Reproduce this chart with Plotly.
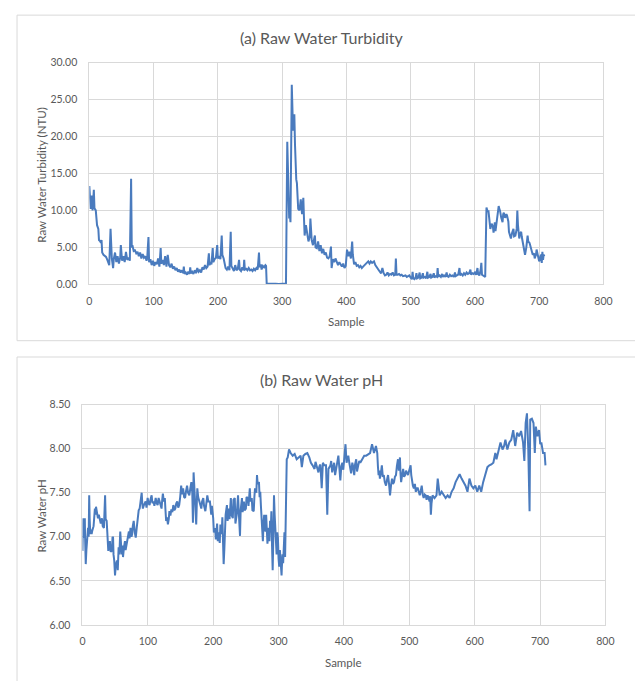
import plotly.graph_objects as go

# ---------------- data: (a) raw water turbidity ----------------
turb_sample = [0, 2, 4, 5, 7, 8, 10, 11, 12, 14, 15, 17, 18, 19, 20, 22, 24, 26, 28, 30, 31, 33, 35, 37, 38, 40, 42, 44, 46, 48, 49,
               51, 53, 55, 57, 59, 61, 63, 65, 66, 67, 69, 71, 73, 75, 77, 79, 81, 83, 85, 87, 89, 90, 92, 93, 95, 97, 99,
               101, 103, 105, 107, 109, 111, 112, 114, 116, 118, 120, 122, 124, 126, 128, 130, 132, 134, 136, 138, 140, 142,
               144, 146, 147, 148, 150, 152, 154, 156, 157, 158, 160, 162, 164, 166, 168, 170, 172, 174, 176, 178, 180, 182,
               184, 186, 187, 189, 190, 192, 193, 195, 197, 199, 200, 202, 204, 206, 207, 209, 211, 212, 214, 216, 218, 220,
               221, 223, 225, 227, 229, 231, 233, 234, 236, 238, 240, 241, 242, 244, 246, 248, 250, 252, 254, 256, 258, 260,
               262, 264, 265, 267, 268, 270, 272, 274, 275, 276, 280, 285, 290, 295, 300, 305, 306, 308, 309, 311, 312, 313,
               315, 316, 317, 318, 319, 320, 321, 322, 323, 324, 325, 327, 329, 331, 333, 334, 335, 337, 338, 340, 341, 343,
               344, 346, 348, 350, 351, 352, 354, 356, 358, 360, 362, 364, 366, 368, 370, 372, 374, 376, 377, 379, 381, 383,
               385, 387, 389, 391, 393, 395, 397, 399, 401, 403, 405, 407, 409, 410, 412, 414, 416, 418, 420, 422, 424, 426,
               428, 430, 432, 434, 436, 438, 440, 443, 445, 447, 450, 452, 454, 456, 458, 460, 462, 464, 466, 468, 470, 472,
               474, 476, 477, 478, 480, 482, 484, 486, 488, 490, 492, 494, 496, 498, 500, 502, 503, 504, 506, 508, 509, 510,
               512, 514, 515, 517, 519, 520, 522, 524, 526, 527, 529, 531, 532, 534, 536, 537, 539, 541, 542, 543, 545, 547,
               549, 550, 552, 554, 556, 557, 559, 561, 563, 565, 567, 569, 570, 572, 574, 576, 577, 579, 581, 583, 585, 587,
               589, 591, 593, 594, 596, 598, 600, 602, 604, 605, 607, 609, 610, 611, 613, 615, 616, 618, 620, 621, 623, 624,
               626, 628, 629, 631, 632, 634, 635, 637, 638, 639, 641, 643, 644, 645, 647, 649, 650, 652, 653, 655, 656, 658,
               660, 661, 663, 665, 666, 667, 669, 670, 672, 673, 675, 677, 678, 680, 682, 683, 685, 686, 688, 690, 692, 693,
               695, 696, 698, 700, 702, 703, 704, 705, 706, 707, 708]
turb_value = [13.3, 10.2, 12.0, 10.0, 12.8, 10.3, 10.0, 8.5, 8.0, 7.5, 6.0, 5.8, 5.6, 6.0, 4.3, 4.0, 3.8, 3.7, 3.3, 2.8, 2.6, 7.5, 3.5, 2.2, 3.4, 4.3, 3.0, 3.8, 2.8, 3.6, 5.3,
              3.2, 3.8, 3.0, 4.4, 3.3, 3.6, 3.2, 14.3, 5.0, 5.3, 4.5, 4.6, 4.2, 4.4, 3.8, 4.3, 3.5, 4.1, 3.6, 3.8, 3.2, 3.5, 6.4, 3.0, 3.4, 2.6, 3.2,
              2.5, 3.0, 2.7, 3.5, 2.4, 4.9, 2.8, 3.3, 2.6, 3.8, 2.4, 4.0, 2.6, 2.3, 2.8, 2.1, 2.4, 1.9, 2.2, 1.7, 2.0, 1.6,
              1.9, 1.5, 2.4, 1.4, 1.6, 1.3, 1.7, 1.4, 2.3, 1.5, 1.7, 1.4, 1.9, 1.5, 2.2, 1.7, 1.9, 1.6, 2.3, 2.0, 2.6, 2.2,
              2.4, 4.2, 2.6, 3.0, 2.7, 4.9, 3.0, 3.4, 3.6, 5.3, 3.5, 3.8, 3.4, 6.6, 4.0, 3.5, 2.3, 2.2, 2.0, 2.4, 1.9, 7.1,
              2.5, 2.0, 1.8, 2.6, 1.9, 2.1, 3.3, 2.0, 1.8, 2.3, 1.9, 3.3, 2.0, 2.1, 1.9, 2.2, 1.9, 2.0, 1.8, 2.1, 1.9, 2.2,
              2.0, 4.3, 2.3, 2.7, 2.0, 2.5, 2.3, 2.6, 2.5, 0.08, 0.05, 0.1, 0.06, 0.05, 0.1, 0.06, 0.1, 19.3, 15.0, 8.9, 9.5, 8.4,
              27.0, 24.0, 20.8, 21.5, 23.0, 19.0, 15.0, 14.2, 13.7, 11.5, 10.2, 10.0, 11.5, 9.5, 11.7, 9.0, 6.6, 8.0, 7.5, 6.2, 5.8, 6.5,
              8.9, 6.0, 5.3, 6.2, 6.6, 5.0, 4.9, 5.8, 4.5, 5.3, 4.2, 4.8, 4.0, 4.3, 3.6, 3.5, 3.8, 5.1, 2.2, 3.4, 3.0, 3.5,
              3.1, 2.6, 3.0, 2.7, 2.4, 2.8, 2.2, 2.5, 4.7, 3.8, 4.4, 3.5, 5.8, 4.0, 2.7, 3.0, 2.5, 2.6, 2.3, 2.5, 2.2, 2.4,
              2.6, 2.8, 3.0, 3.1, 2.8, 3.1, 2.9, 3.1, 2.6, 2.3, 2.0, 1.7, 1.5, 2.2, 1.5, 1.2, 1.3, 1.6, 1.2, 1.4, 1.3, 1.6,
              1.2, 1.3, 3.5, 1.3, 1.3, 1.4, 1.2, 1.3, 1.1, 1.1, 1.2, 1.0, 1.1, 1.2, 0.9, 0.7, 1.7, 0.8, 0.7, 1.0, 1.5, 0.8,
              0.9, 1.6, 0.8, 0.9, 1.5, 0.9, 1.0, 0.8, 1.7, 0.9, 1.0, 1.4, 0.9, 1.0, 1.5, 0.9, 1.1, 1.0, 2.2, 1.0, 1.2, 1.0,
              1.4, 1.0, 1.2, 1.0, 1.6, 1.1, 1.0, 1.3, 1.1, 1.2, 1.0, 1.6, 1.1, 1.2, 1.3, 2.2, 1.2, 1.4, 1.2, 1.5, 1.3, 1.6,
              1.4, 1.5, 2.0, 1.3, 1.5, 1.4, 1.6, 1.3, 2.2, 1.4, 1.2, 2.0, 2.9, 1.3, 1.2, 1.1, 1.0, 10.4, 9.8, 10.0, 8.0, 7.5,
              8.2, 7.8, 7.0, 8.4, 7.2, 8.5, 9.3, 10.6, 10.2, 10.0, 9.0, 8.4, 9.5, 9.7, 9.0, 9.5, 9.3, 8.5, 7.1, 6.5, 6.2, 7.0,
              7.5, 6.5, 6.6, 7.5, 10.0, 8.0, 6.2, 6.8, 7.1, 6.4, 5.3, 4.8, 4.0, 5.0, 6.6, 5.8, 5.6, 5.3, 4.8, 4.0, 4.2, 3.5,
              4.0, 4.7, 3.9, 3.1, 3.8, 4.0, 2.9, 4.4, 3.3, 4.0, 3.8]

# ---------------- data: (b) raw water pH ----------------
ph_sample = [
    0, 1, 2, 2.5, 3, 3.6, 4, 5, 6, 6.7, 7.5, 8.5, 9.5, 10.3, 11, 12, 13, 14, 15, 17,
    19, 20, 20.7, 22, 23.7, 25, 26.7, 28, 29.8, 31, 32.8, 34.6, 35.5, 37, 38, 39.5, 40.5, 42, 43, 45,
    46, 46.8, 47.5, 48.6, 49.8, 51, 52.9, 54, 55.3, 56.5, 57.8, 59, 60, 61, 62, 63.5, 65, 66, 67.5, 69,
    71, 72, 73.5, 75, 76, 77, 78.4, 80, 81.5, 83, 84.5, 86, 87.5, 89, 90.6, 91.5, 92.4, 94, 96.6, 98,
    99.7, 101, 102.7, 104, 105.8, 107, 108.8, 110, 112, 113.5, 115, 116.5, 118, 119.5, 121, 122, 123, 124.5, 126, 127,
    128, 129.5, 130.7, 132, 133, 134.5, 136, 137.5, 139, 140.5, 142, 143.5, 145, 146.5, 148, 149.5, 151, 152.5, 154, 155.5,
    157, 158.5, 160, 161.5, 163.5, 165, 166.6, 168, 169, 170, 171, 172, 173, 174, 175, 175.7, 177, 178.7, 180, 181.8,
    183, 184.8, 186, 188, 189.5, 191, 192.5, 194,
    195, 197, 198, 200, 201, 203, 204, 206, 207, 208, 210, 211, 213, 214, 216, 217, 218, 219, 221, 222,
    224, 225, 227, 228, 230, 231, 233, 234, 236, 237, 238, 239, 241, 242, 244, 245, 247, 248, 250, 251,
    253, 254, 256, 257, 259, 260, 262, 263, 264, 266, 267, 268, 270, 271, 272, 273, 274, 275, 276, 277,
    278, 279, 280, 281, 283, 284, 285, 286, 287, 288, 289, 290, 291, 292, 293, 294, 295, 296, 297, 298,
    299, 300, 301, 302, 303, 304, 304.6, 305, 306, 307, 308, 309, 310, 311, 312.5,
    314, 316, 318.5, 321.6, 324.6, 327.7, 330.7, 333.7, 335.6, 338, 341, 344, 347, 349.5, 352, 355, 356.5, 358, 361, 362.5,
    364, 366, 367.8, 370, 372.6, 374.5, 376.3, 379.3, 380.5, 382, 385, 386.5, 388, 389.5, 391.5, 393, 394.5, 396, 397.6, 399,
    400.6, 402.4, 404, 406.7, 408, 409.7, 411, 412.8, 414, 415.8, 417, 418.8, 420, 421.9, 423.5, 425, 428, 431, 434, 437,
    440, 443, 446, 449,
    451, 452, 453, 454, 455, 456.5, 458, 459.5, 461, 462.5, 464.4, 466, 467.5, 469, 470.5, 472, 473.6, 475, 476.6, 478,
    479.6, 481, 482.7, 484, 485.7, 486.5, 487.5, 489, 490.6, 492, 493.6, 495, 496.7, 498, 499, 500.5, 502, 503, 504, 505.5,
    507, 508.5, 510, 511.5, 513, 514.5, 516, 517.5, 519, 520.5, 522, 523.5, 525, 526.5, 528, 529.5, 531, 532, 533, 534,
    535.6,
    538.6, 541.6, 543.5, 546.5, 549.5, 552.6, 555.6, 558.7, 561.7, 564.7, 567.8, 570.8, 573.9, 577, 580, 583, 586, 589, 592, 595,
    598, 601, 604, 607, 610, 613, 616.4, 619.5, 622.5, 625.5, 628.6, 631.6, 633.4, 636.5, 639.5, 642.6, 645, 647, 650, 653,
    656, 659, 662, 665, 668, 671, 674, 676, 678, 680, 682, 684, 685, 687.5, 690, 692, 693.6, 696, 698.5, 700.3,
    702, 704.6, 707, 708.3]
ph_value = [
    6.84, 7.21, 7.00, 6.99, 7.15, 7.21, 7.00, 6.69, 6.85, 6.95, 7.05, 7.10, 7.00, 7.47, 7.20, 7.03, 7.08, 7.03, 7.07, 7.12,
    7.32, 7.25, 7.34, 7.28, 7.21, 7.25, 7.18, 7.15, 7.21, 7.12, 7.10, 7.47, 7.20, 7.18, 7.05, 6.84, 6.90, 6.95, 6.83, 6.84,
    7.00, 6.99, 6.80, 6.73, 6.56, 6.68, 6.73, 6.62, 6.88, 6.80, 7.06, 6.95, 6.80, 6.90, 6.77, 6.88, 6.95, 6.85, 6.92, 7.00,
    7.06, 6.98, 7.10, 7.00, 7.03, 7.12, 7.18, 7.05, 6.99, 7.10, 7.25, 7.30, 7.32, 7.40, 7.50, 7.38, 7.32, 7.36, 7.40, 7.33,
    7.44, 7.38, 7.36, 7.42, 7.47, 7.38, 7.40, 7.35, 7.44, 7.38, 7.36, 7.44, 7.40, 7.33, 7.32, 7.42, 7.49, 7.40, 7.44, 7.30,
    7.18, 7.22, 7.14, 7.20, 7.29, 7.24, 7.31, 7.28, 7.36, 7.30, 7.32, 7.38, 7.40, 7.33, 7.36, 7.45, 7.58, 7.48, 7.55, 7.45,
    7.44, 7.52, 7.58, 7.50, 7.47, 7.55, 7.62, 7.50, 7.16, 7.73, 7.58, 7.47, 7.30, 7.14, 7.40, 7.55, 7.45, 7.40, 7.35, 7.32,
    7.40, 7.44, 7.35, 7.29, 7.38, 7.47, 7.40, 7.40,
    7.40, 7.25, 7.35, 7.21, 7.05, 7.10, 6.97, 7.15, 6.95, 7.05, 6.93, 7.14, 7.03, 7.22, 6.69, 6.85, 7.10, 7.25, 7.36, 7.18,
    7.32, 7.20, 7.44, 7.25, 7.21, 7.42, 7.44, 7.15, 7.25, 7.40, 7.47, 7.30, 7.01, 7.30, 7.44, 7.28, 7.40, 7.30, 7.32, 7.45,
    7.44, 7.35, 7.55, 7.40, 7.44, 7.30, 7.29, 7.45, 7.55, 7.50, 7.70, 7.60, 7.62, 7.45, 7.51, 7.35, 7.21, 7.05, 6.95, 7.15,
    7.25, 7.10, 7.06, 7.25, 6.92, 7.05, 7.10, 6.95, 7.18, 7.05, 7.29, 6.90, 6.62, 7.00, 7.47, 7.25, 7.10, 6.90, 6.80, 7.05,
    6.99, 6.75, 6.66, 6.85, 6.73, 6.60, 6.56, 6.65, 6.80, 6.70, 6.88, 7.05, 6.77, 7.36, 7.88,
    7.90, 7.99, 7.95, 7.92, 7.94, 7.88, 7.90, 7.92, 7.79, 7.92, 7.94, 7.95, 7.90, 7.84, 7.81, 7.77, 7.85, 7.81, 7.73, 7.80,
    7.82, 7.55, 7.84, 7.81, 7.81, 7.25, 7.77, 7.81, 7.86, 7.73, 7.84, 7.70, 7.77, 7.85, 7.92, 7.78, 7.64, 7.80, 7.84, 7.76,
    7.88, 8.05, 7.84, 7.92, 7.85, 7.77, 7.72, 7.84, 7.80, 7.70, 7.82, 7.88, 7.74, 7.81, 7.86, 7.84, 7.88, 7.92, 7.92, 7.94,
    7.95, 8.05, 7.95, 8.03,
    7.95, 7.80, 7.70, 7.75, 7.66, 7.72, 7.81, 7.68, 7.70, 7.62, 7.58, 7.65, 7.70, 7.60, 7.47, 7.58, 7.66, 7.60, 7.62, 7.68,
    7.70, 7.80, 7.88, 7.75, 7.90, 7.72, 7.62, 7.70, 7.77, 7.68, 7.70, 7.75, 7.73, 7.70, 7.73, 7.76, 7.81, 7.70, 7.62, 7.58,
    7.55, 7.60, 7.51, 7.55, 7.55, 7.50, 7.47, 7.52, 7.58, 7.48, 7.44, 7.48, 7.47, 7.42, 7.47, 7.44, 7.40, 7.46, 7.25, 7.38,
    7.47,
    7.44, 7.47, 7.66, 7.47, 7.51, 7.47, 7.44, 7.47, 7.44, 7.51, 7.55, 7.62, 7.66, 7.71, 7.66, 7.62, 7.58, 7.51, 7.66, 7.58,
    7.55, 7.58, 7.51, 7.58, 7.51, 7.62, 7.70, 7.79, 7.81, 7.82, 7.84, 7.95, 7.88, 7.99, 8.07, 7.99, 8.03, 8.10, 7.99, 8.07,
    8.10, 8.21, 8.03, 8.18, 8.14, 8.20, 8.07, 7.86, 8.29, 8.40, 7.99, 7.29, 8.33, 8.34, 8.29, 7.95, 8.25, 8.14, 8.21, 8.05,
    8.07, 7.95, 7.95, 7.81]

assert len(turb_sample) == len(turb_value), (len(turb_sample), len(turb_value))
assert len(ph_sample) == len(ph_value), (len(ph_sample), len(ph_value))

x_ticks = [0, 100, 200, 300, 400, 500, 600, 700, 800]
turb_ticks = [0, 5, 10, 15, 20, 25, 30]
ph_ticks = [6.0, 6.5, 7.0, 7.5, 8.0, 8.5]

W, H = 635, 681
FONT = "Lato, 'Open Sans', sans-serif"
TXT = "#595959"
GRID = "#D9D9D9"
LINE = "#4A7BBE"


def px(x):
    return x / W


def py(y):
    return 1 - y / H


fig = go.Figure()
fig.add_trace(go.Scatter(x=turb_sample, y=turb_value, mode="lines", xaxis="x", yaxis="y",
                         line=dict(color=LINE, width=2), showlegend=False))
fig.add_trace(go.Scatter(x=ph_sample, y=ph_value, mode="lines", xaxis="x2", yaxis="y2",
                         line=dict(color=LINE, width=2), showlegend=False))

axis_common = dict(showgrid=True, gridcolor=GRID, gridwidth=1, showline=True, linecolor=GRID,
                   linewidth=1, mirror=True, zeroline=False, ticks="",
                   tickfont=dict(family=FONT, size=10.5, color=TXT))

fig.update_layout(
    width=W, height=H, margin=dict(l=0, r=0, t=0, b=0),
    paper_bgcolor="white", plot_bgcolor="white", showlegend=False,
    xaxis=dict(domain=[px(88), px(612)], range=[0, 800], tickvals=x_ticks, anchor="y",
               ticklabelstandoff=7, **axis_common),
    yaxis=dict(domain=[py(283.3), py(57.7)], range=[0, 30], tickvals=turb_ticks, tickformat=".2f",
               anchor="x", ticklabelstandoff=9, **axis_common),
    xaxis2=dict(domain=[px(81), px(614)], range=[0, 800], tickvals=x_ticks, anchor="y2",
                ticklabelstandoff=7, **axis_common),
    yaxis2=dict(domain=[py(630), py(405.7)], range=[6, 8.5], tickvals=ph_ticks, tickformat=".2f",
                anchor="x2", ticklabelstandoff=9, **axis_common),
)

# panel borders
fig.add_shape(type="rect", xref="paper", yref="paper", x0=px(14.3), x1=1.05, y0=py(340.7), y1=py(9.3),
              line=dict(color=GRID, width=1), layer="below")
fig.add_shape(type="rect", xref="paper", yref="paper", x0=px(14.3), x1=1.05, y0=-0.05, y1=py(357.3),
              line=dict(color=GRID, width=1), layer="below")

ann = [
    dict(text="(a) Raw Water Turbidity", x=px(325), y=py(32), size=16),
    dict(text="(b) Raw Water pH", x=px(325), y=py(380), size=16),
    dict(text="Sample", x=px(350), y=py(321), size=11.5),
    dict(text="Sample", x=px(347.5), y=py(668), size=11.5),
    dict(text="Raw Water Turbidity (NTU)", x=px(39.5), y=py(172), size=11.5, angle=-90),
    dict(text="Raw Water pH", x=px(39.5), y=py(519), size=11.5, angle=-90),
]
for a in ann:
    fig.add_annotation(text=a["text"], x=a["x"], y=a["y"], xref="paper", yref="paper",
                       xanchor="center", yanchor="middle", showarrow=False,
                       textangle=a.get("angle", 0), font=dict(family=FONT, size=a["size"], color=TXT))

fig.write_html("out.html")
